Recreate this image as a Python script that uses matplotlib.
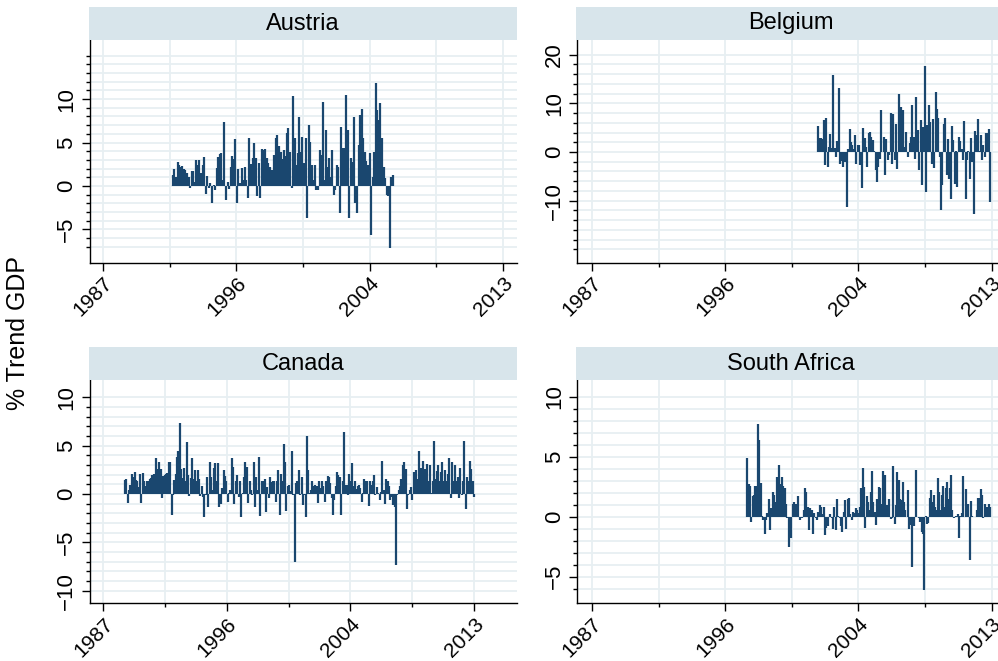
import numpy as np
import matplotlib.pyplot as plt

plt.rcParams['font.family'] = ['Liberation Sans', 'DejaVu Sans']

# Monthly spikes, % of trend GDP, with first/last observation dates
austria = [1.26, 1.92, 1.0, 2.72, 2.41, 2.22, 2.3, 1.92, 1.84, 1.53, 1.07, -0.27, 1.72, 1.72, 0.5,
           2.99, 2.41, 2.99, 1.46, 2.41, 3.3, -0.92, 1.15, -0.27, 0.31, -1.99, 0.11, -0.46, 2.03,
           3.3, 3.64, 3.83, 0.69, 7.39, -1.61, 0.5, -0.38, 2.22, 3.45, 3.07, 5.36, -1.92, 1.92,
           0.31, 2.11, 0.69, 2.22, 0.69, -1.42, 5.48, 2.53, 3.18, 4.98, 3.18, -1.15, 2.61, -1.42,
           4.21, 4.14, 4.21, 3.18, 2.68, 2.22, 1.84, 1.84, 3.56, 5.48, 5.86, 4.6, 3.95, 3.07, 4.14,
           3.45, 6.05, 6.63, 3.95, -0.27, 10.34, 5.48, 2.41, 3.75, 7.97, 3.95, 5.67, 2.61, 5.48,
           -3.72, 7.01, 5.1, 2.41, 0.69, 2.41, -0.46, -0.46, 4.14, 3.56, 9.69, 0.69, 6.44, 2.22,
           3.18, 1.07, 4.14, -1.03, -0.46, 2.41, 2.22, -3.14, 6.74, 4.33, 4.33, 10.46, 6.44, -3.72,
           3.18, 2.8, 7.97, -1.92, -3.14, 4.71, 8.16, 8.81, 5.48, 3.95, 2.91, 2.41, 3.75, -5.63,
           1.07, 3.95, 11.88, 8.74, 7.59, 9.5, 5.48, 2.22, 0.88, -1.03, -1.15, -7.16, 1.07, 1.26]
austria_span = (1991.55, 2005.84)

belgium = [5.3, 2.9, 2.9, 2.7, 6.5, -2.7, 6.9, -3.0, 1.0, 3.6, 0.9, 15.8, 0.9, -1.0, 2.3, 13.1,
           -2.4, -1.9, -3.1, -1.0, -2.1, -11.3, 0.7, 4.7, 2.1, 1.4, 0.7, 3.4, -2.4, 1.4, 1.4, -2.7,
           -7.4, 4.9, 2.9, 1.0, -3.1, 3.8, 4.1, 3.1, 2.4, 0.3, -3.8, -6.2, -3.1, -1.4, 8.6, 0.0,
           3.1, -4.8, 2.7, -1.7, -0.7, 8.0, -2.4, 7.9, -1.7, 5.8, -3.4, 12.0, 1.7, 9.3, 8.6, 1.0,
           4.1, 0.0, -1.0, 1.9, 3.1, 9.6, 3.1, -1.4, 11.2, 4.5, -3.6, 6.5, -6.7, 5.2, 17.7, -8.2,
           5.5, 9.6, 6.2, -2.4, 6.7, -3.2, 12.4, 8.9, 6.9, -1.0, -12.0, -6.7, 5.8, 6.9, -4.8, 2.7,
           -5.5, -9.6, 5.3, 2.4, -6.5, 0.3, -7.2, 3.1, 2.3, 0.7, -1.7, 6.4, -9.6, -1.7, 0.3, -5.5,
           2.9, -2.1, -12.7, 4.3, 3.4, 6.7, 0.3, 3.4, -1.7, 1.4, -1.0, 3.8, 3.8, 4.8, -10.3]
belgium_span = (2001.71, 2012.9)

canada = [1.5, 1.6, -0.9, 0.4, 0.9, 2.1, 1.8, 2.3, 1.5, 1.4, 0.7, 2.1, -0.9, 2.2, 1.3, 0.8, 1.4,
          1.4, 1.6, 1.7, 2.0, 2.1, 1.4, 3.7, 2.6, 3.3, 2.6, -0.4, 1.9, 2.0, 2.1, 2.2, 3.3, 3.3,
          -2.2, -0.1, 1.5, 2.1, 3.8, 4.5, 7.4, 2.6, 1.7, 2.7, 1.4, 5.4, 2.0, -0.2, 1.7, 3.7, 1.6,
          2.5, 1.4, 2.5, 1.6, -0.2, 0.8, -0.3, -2.4, -0.1, 1.8, -1.3, 3.3, 1.8, 0.4, 2.7, 3.2, 1.4,
          3.2, -1.3, -1.0, 0.6, 2.5, 1.9, 1.3, -0.8, 0.1, 0.4, 3.7, 2.8, -1.0, 1.3, 2.0, -0.3, 1.4,
          -2.4, 0.1, 1.8, 3.3, 2.8, -0.9, 1.4, 0.4, -0.1, 3.3, -1.3, 1.8, 0.4, 3.8, -2.3, 1.3, 1.4,
          1.6, -1.9, 0.7, -0.4, 1.8, 1.2, 1.4, 1.4, -0.8, 1.4, 2.5, -2.2, 2.1, 1.4, 5.2, 3.3, -1.8,
          0.8, 0.9, 0.3, 4.5, -0.1, -7.0, 1.1, 1.4, 2.5, -0.1, 1.8, -1.1, -0.1, -2.4,
          6.0, 2.5, 0.1, 0.4, 1.3, 0.8, 0.9, 0.8, -0.9, 1.4, 0.6, 1.3, 0.8, -0.8, 1.4, 1.9, 1.8,
          1.1, -0.4, -2.2, -0.6, 0.8, 2.3, 2.0, 1.8, -2.2, 1.4, 6.4, 0.9, 0.9, -0.1, 2.1, 1.3, 3.2,
          0.8, 1.4, 0.5, 0.8, 0.9, 0.6, -0.8, 0.1, 1.6, 1.4, 1.4, -1.2, 1.3, 0.9, 1.4, 2.0, -0.1,
          0.7, 0.1, -0.6, 0.2, 3.4, 0.4, -1.0, 1.6, 1.4, 0.8, -0.6, -0.3, -1.1, -1.3, -7.3, -0.1,
          0.4, 0.8, 1.6, 3.0, 3.3, 2.6, -1.5, -0.1, 0.4, 0.7, -0.6, 2.3, 1.4, 2.5, 1.6, 4.5, 2.7,
          1.8, 3.4, 2.6, 1.4, 3.1, 1.4, 3.0, 0.1, 1.4, 5.5, 1.6, 2.4, 3.0, 1.4, 2.3, 3.3, 1.4, 2.5,
          1.4, 2.1, 3.7, -0.4, 3.3, 1.4, 3.0, 1.4, 1.8, -0.4, 2.7, -0.1, 1.4, 5.5, -1.5, 1.8, 1.4,
          3.4, 2.6, 1.4, -0.3]
canada_span = (1988.52, 2013.0)

south_africa = [4.9, 2.7, 2.6, -0.4, 1.7, 1.8, 2.6, 2.6, 7.7, 6.4, 2.8, 0.1, -0.3, -1.4, -0.3, 0.3,
                1.5, -1.1, 0.7, 2.1, 1.8, 1.25, 3.3, 1.8, 4.3, 2.7, 3.3, 2.6, 2.4, 1.1, -0.1, -2.5,
                -0.7, -1.8, 1.1, 1.25, 1.1, 0.6, 1.7, -0.3, 0.0, -0.1, 0.6, 2.4, 2.1, 0.8, -1.1, 0.7,
                0.6, -1.4, 0.3, -0.1, -0.3, 0.4, 1.0, 0.8, 0.2, 0.8, -1.5, -0.9, -0.8, 0.0, 0.2, -0.1,
                -1.0, 0.8, -1.1, 1.5, 0.1, -0.1, -0.8, -1.25, 0.4, 1.4, -1.0, 1.5, 1.6, 0.2, -0.3,
                0.4, 0.3, 0.7, 0.6, 0.3, 0.8, 2.4, 4.1, 2.5, -0.9, 1.7, 1.25, 0.6, 2.1, 3.8, 1.25,
                0.4, -0.7, 1.5, 2.5, 2.4, 1.1, 3.8, 2.8, 3.5, 1.0, 0.6, 1.5, -0.2, -0.1, 4.2, -0.6,
                1.0, 3.75, 3.1, 1.5, 1.4, 2.9, 1.2, 0.6, -0.05, 2.2, -1.0, -0.7, -4.2, -0.8, 0.0,
                3.9, -0.05, -0.1, -0.4, -1.25, -1.4, -6.1, 0.1, -0.6, -0.5, 1.6, 2.2, 1.25, 1.8, 0.8,
                0.6, 3.2, 2.1, 0.6, 1.8, 2.6, 0.8, 2.4, 2.9, 1.5, 2.4, 3.5, 0.6, -0.1, -0.05, 0.1,
                0.2, -1.8, 0.1, 0.3, 3.4, 0.0, 2.3, 0.2, 1.1, -3.6, 1.3, 0.1, 0.0, 0.0, 0.6, 1.6, 1.6,
                2.3, 1.8, -0.1, 1.1, 0.8, 0.8, 1.1, 0.8]
south_africa_span = (1997.10, 2012.88)

year_ticks = np.linspace(1987, 2013, 7)
year_labels = ['1987', '1996', '2004', '2013']

NAVY = '#1a476f'
GRID = '#e7eff2'
STRIP = '#d8e5eb'

W, H = 998, 661
fig = plt.figure(figsize=(W / 100, H / 100), dpi=100)


def add_px_axes(left, top, right, bottom):
    return fig.add_axes([left / W, 1 - bottom / H, (right - left) / W, (bottom - top) / H])


panels = [
    # name, values, span, box (l, t, r, b), xlim, ylim, major y, minor y
    ('Austria', austria, austria_span, (89.5, 40, 517, 262.5), (1986.13, 2013.9),
     (-8.8, 16.8), [-5, 0, 5, 10], np.arange(-7, 16, 1)),
    ('Belgium', belgium, belgium_span, (577.3, 40, 1005, 262.5), (1986.05, 2013.86),
     (-22.7, 23.0), [-10, 0, 10, 20], np.arange(-20, 21, 2)),
    ('Canada', canada, canada_span, (89.5, 380, 517, 603), (1986.03, 2016.02),
     (-11.27, 11.8), [-10, -5, 0, 5, 10], np.arange(-10, 11, 1)),
    ('South Africa', south_africa, south_africa_span, (577.3, 380, 1005, 603), (1986.05, 2013.86),
     (-7.19, 11.4), [-5, 0, 5, 10], np.arange(-6, 11, 1)),
]

for name, vals, span, box, xlim, ylim, ymaj, ymin in panels:
    l, t, r, b = box
    ax = add_px_axes(l, t, r, b)
    x = np.linspace(span[0], span[1], len(vals))
    ax.vlines(x, 0, vals, color=NAVY, lw=1.6, zorder=3)

    ax.set_xlim(*xlim)
    ax.set_ylim(*ylim)
    ax.set_xticks(year_ticks[::2])
    ax.set_xticklabels(year_labels)
    ax.set_xticks(year_ticks[1::2], minor=True)
    ax.set_yticks(ymaj)
    ax.set_yticklabels([str(v).replace('-', '\u2212') for v in ymaj])
    ax.set_yticks(ymin, minor=True)

    ax.grid(True, which='both', color=GRID, lw=1.3, zorder=0)
    ax.set_axisbelow(True)
    for s in ('top', 'right'):
        ax.spines[s].set_visible(False)
    for s in ('left', 'bottom'):
        ax.spines[s].set_linewidth(1.0)
        ax.spines[s].set_color('black')

    ax.tick_params(which='major', length=6, width=1.0, labelsize=16, pad=3)
    ax.tick_params(axis='x', which='major', labelsize=15, pad=2)
    ax.tick_params(which='minor', length=3, width=1.0)
    for lab in ax.get_xticklabels():
        lab.set_rotation(45)
        lab.set_ha('right')
        lab.set_va('top')
        lab.set_rotation_mode('anchor')
    for lab in ax.get_yticklabels():
        lab.set_rotation(90)
        lab.set_va('center')
        lab.set_ha('right')

    strip = add_px_axes(l - 1, t - 33, r, t)
    strip.set_facecolor(STRIP)
    strip.set_xticks([])
    strip.set_yticks([])
    for s in strip.spines.values():
        s.set_visible(False)
    strip.text(0.5, 0.5, name, transform=strip.transAxes, ha='center', va='center',
               fontsize=17)

fig.text(18 / W, 1 - 333 / H, '% Trend GDP', rotation=90, ha='center', va='center',
         fontsize=18)

fig.savefig('out.png', dpi=100)
